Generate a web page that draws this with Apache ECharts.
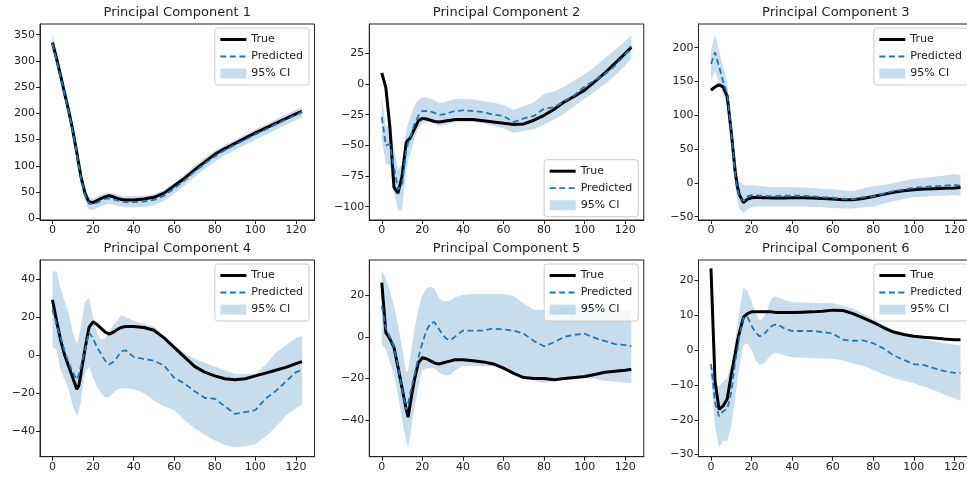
<!DOCTYPE html>
<html>
<head>
<meta charset="utf-8">
<script src="https://cdn.jsdelivr.net/npm/echarts@6.0.0/dist/echarts.min.js"></script>
<style>
html, body { margin: 0; padding: 0; background: #fff; }
#chart { width: 967px; height: 479px; }
</style>
</head>
<body>
<div id="chart"></div>
<script>
// shared x positions (time steps) the values below were read at
var xs = [0, 2, 4, 6, 8, 10, 12, 13, 14, 16, 18, 20, 22, 24, 26, 28, 30, 32, 34, 36, 40, 45,
    50, 55, 60, 65, 70, 75, 80, 85, 90, 95, 100, 105, 110, 115, 120, 123];
var xTicks = [0, 20, 40, 60, 80, 100, 120];

var pc1True = [335, 305, 272, 238, 205, 168, 125, 102, 80, 48, 31, 30, 34, 38, 41, 43, 41, 38, 36, 35, 35, 37,
    40, 48, 62, 76, 92, 107, 122, 133, 143, 153, 163, 172, 181, 190, 199, 204];
var pc1Pred = [333, 302, 270, 236, 203, 166, 123, 100, 78, 45, 28, 27, 30, 34, 37, 38, 36, 34, 32, 31, 31, 32,
    35, 43, 57, 72, 89, 104, 118, 130, 140, 150, 160, 169, 179, 188, 197, 203];
var pc1Lo = [318, 290, 258, 224, 191, 154, 111, 88, 66, 33, 16, 16, 19, 23, 26, 28, 26, 24, 22, 21, 21, 22,
    25, 33, 47, 62, 79, 94, 108, 120, 130, 140, 150, 159, 169, 178, 187, 193];
var pc1Hi = [352, 318, 284, 250, 217, 180, 137, 113, 91, 57, 40, 38, 41, 45, 48, 49, 47, 45, 43, 42, 42, 43,
    46, 54, 68, 83, 100, 115, 129, 140, 150, 160, 170, 179, 189, 198, 207, 212];
var pc1Ticks = [0, 50, 100, 150, 200, 250, 300, 350];

var pc2True = [9, -3, -35, -84, -89, -75, -48, -45.5, -44, -37, -30, -28, -28.5, -29.5, -30.5, -31, -30.5, -30, -29.5, -29, -29, -29,
    -30, -31, -32, -33, -32.5, -29.5, -25.5, -20.5, -14.5, -10, -5, 2, 9, 17, 25, 30];
var pc2Pred = [-27, -50, -49, -68, -86, -82, -55, -48, -44, -33, -26, -22, -22, -22.5, -23.5, -25, -25, -24, -23, -22, -21.5, -22,
    -23, -25, -26, -31, -28, -26, -20, -19, -14, -9, -2, 3, 8, 15, 24, 31];
var pc2Lo = [-45, -65, -66, -88, -103, -103, -72, -63, -57, -45, -36, -32, -31, -31, -32, -34, -34, -33, -32, -31, -31, -31,
    -32, -34, -36, -40, -38, -37, -33, -29, -24, -18, -12, -6, 0, 7, 15, 21];
var pc2Hi = [-10, -35, -32, -52, -70, -65, -38, -32, -27, -18, -13, -11, -11, -12, -13, -15, -15, -14, -13, -12.5, -12, -12.5,
    -14, -15, -17, -21, -18, -15, -8, -6, -2, 3, 8, 14, 21, 28, 35, 40];
var pc2Ticks = [-100, -75, -50, -25, 0, 25];

var pc3True = [137, 142, 145, 142, 128, 75, 15, -5, -18, -29, -24, -22, -21.5, -21.5, -22, -22, -22.5, -22.5, -22.5, -22.5, -22, -22,
    -22.5, -23, -24, -25, -25, -23, -20, -17, -14, -11.5, -10, -9, -8.5, -8, -7.5, -7];
var pc3Pred = [176, 193, 172, 150, 132, 75, 12, -8, -22, -27, -20, -18, -18.5, -19, -19, -19.5, -19.5, -19.5, -19, -19, -19, -19,
    -20, -21, -22, -23.5, -24, -21, -20, -16, -12, -10, -7, -6, -5, -4, -3, -4];
var pc3Lo = [152, 165, 150, 130, 115, 55, -5, -25, -38, -45, -39, -36, -35, -35, -35, -35, -35, -35, -35, -35, -35, -35,
    -35.5, -36, -37, -38, -38, -36, -35, -31, -27, -24, -21, -20, -19, -19, -18, -19];
var pc3Hi = [195, 220, 195, 172, 148, 92, 30, 12, 2, -3, -4, -4, -4, -5, -5, -6, -6, -6, -6, -6, -6.5, -7,
    -7.5, -8.5, -9.5, -11, -12, -8, -5, -3, 0, 3, 6, 7.5, 9, 11, 13, 12];
var pc3Ticks = [-50, 0, 50, 100, 150, 200];

var pc4True = [29, 18, 8, 0, -6, -12, -18, -16, -10, 3, 14.5, 17.5, 16, 14, 12, 11, 12, 13.5, 14.5, 15, 15, 14.5,
    13, 9, 4, -1, -6, -9, -11, -12.5, -13, -12.5, -11, -9.5, -8, -6.5, -4.5, -3.5];
var pc4Pred = [24, 16, 9, 2, -4, -9, -13, -10, -6, 2.5, 12, 8.6, 4, 0.5, -3, -5, -3.5, -1, 2, 2.5, -1, -2,
    -3, -5.5, -12, -15, -19, -22.5, -23, -27, -31, -30, -29, -23, -19, -14, -9, -8];
var pc4Lo = [4, 3, -8, -13, -18, -27, -32, -30, -24, -10, -6, -12, -17, -20, -22.5, -22, -20, -18, -17.5, -17.5, -18, -20,
    -24, -27, -29, -34, -38.5, -42, -45, -47.5, -48.5, -48, -47, -43, -38, -32, -28, -26];
var pc4Hi = [44, 44, 35, 28, 22, 12, 6, 10, 15, 28, 30, 20, 11, 8, 9, 12, 16, 18, 21, 20, 18, 16.5,
    15, 10, 5, 1, -2, -4, -6, -8, -10, -10, -10, -5, 1, 5, 9, 10];
var pc4Ticks = [-40, -20, 0, 20, 40];

var pc5True = [26, 2, -1, -5, -14.5, -24.5, -34.5, -38.5, -32, -21, -12.5, -10, -10.5, -11.5, -12.5, -13, -12.5, -12, -11.5, -11, -11, -11.5,
    -12, -13, -15, -17.5, -19.5, -20, -20, -20.5, -20, -19.5, -19, -18, -17, -16.5, -16, -15.5];
var pc5Pred = [15, 4, 0, -5, -14, -25, -35, -32, -27, -19, -10, -3, 3, 6.5, 7, 4, 1, -1, -1.5, 0, 3, 3,
    3, 4, 3.5, 3, 1.5, -2, -4.5, -2.5, 0, 1, 1.5, -0.5, -2, -3.5, -4, -4.5];
var pc5Lo = [-4, -6, -12, -18, -28, -40, -50, -53, -47, -35, -24, -16, -15, -15, -15, -17, -18, -18.5, -18, -16, -14, -14,
    -14, -14, -15, -17, -19, -21, -22, -21, -20, -20, -20, -20, -21, -21.5, -22, -22];
var pc5Hi = [32, 28, 22, 15, 6, -5, -17, -16, -10, 3, 13, 20, 23, 24, 23, 19, 17, 17, 17.5, 19, 20, 20.5,
    20.5, 20.5, 20.5, 19.5, 16, 13, 13, 13, 14, 14, 14.5, 14, 13, 13, 13, 13];
var pc5Ticks = [-40, -20, 0, 20];

var pc6True = [23.5, -9, -17, -16, -14, -7, -1, 2.5, 5, 9.5, 10.5, 11, 11, 11, 11, 11, 11, 10.8, 10.8, 10.8, 10.8, 10.9,
    11, 11.2, 11.5, 11.4, 10.5, 9.3, 8, 6.5, 5.2, 4.5, 4, 3.7, 3.5, 3.2, 3, 3];
var pc6Pred = [-4, -15, -19, -17.5, -17, -12, -3, 0, 4, 9.5, 9.5, 7, 5, 4, 4.5, 5.8, 7, 7.4, 7, 6.3, 5.5, 5.5,
    5.5, 5.2, 4.8, 3, 2.7, 2.8, 2, 0.5, -1.5, -2.8, -4, -4.3, -5.2, -6, -6.5, -6.5];
var pc6Lo = [-7, -22, -28, -26, -26, -22, -13, -9, -5, 1.5, 2, 0, -3, -4.2, -3.8, -2.5, -1.2, -0.8, -1, -1.5, -2, -2.2,
    -2.3, -2.4, -2.5, -3, -3.8, -4.5, -5.7, -7, -8, -8.8, -9.5, -10.5, -11.5, -12.8, -13.8, -14.5];
var pc6Hi = [-3, -9, -10.5, -9, -8, -4, 3, 7, 11, 18, 17, 14, 10.5, 8.5, 9.5, 12, 15, 15.5, 15, 14.5, 13.8, 13.8,
    13.6, 13.5, 13.5, 12.8, 12, 10.5, 8.7, 7.2, 5.8, 4.8, 3.9, 3.2, 2.5, 2, 1.6, 1.5];
var pc6Ticks = [-30, -20, -10, 0, 10, 20];

var myChart = echarts.init(document.getElementById('chart'));
var font = 'DejaVu Sans';
var ink = '#222';
var blue = '#1f77b4';
var bandColor = 'rgba(31,119,180,0.25)';

var panels = [
    {title: 'Principal Component 1', t: pc1True, p: pc1Pred, lo: pc1Lo, hi: pc1Hi, ticks: pc1Ticks,
        left: 40, top: 24, h: 196, ymin: -3.2, ymax: 370.4, legend: {right: 658, top: 28}},
    {title: 'Principal Component 2', t: pc2True, p: pc2Pred, lo: pc2Lo, hi: pc2Hi, ticks: pc2Ticks,
        left: 369.3, top: 24, h: 196, ymin: -110.8, ymax: 48.9, legend: {right: 328.7, bottom: 262.3}},
    {title: 'Principal Component 3', t: pc3True, p: pc3Pred, lo: pc3Lo, hi: pc3Hi, ticks: pc3Ticks,
        left: 698.5, top: 24, h: 196, ymin: -54.9, ymax: 235, legend: {right: -1, top: 28}},
    {title: 'Principal Component 4', t: pc4True, p: pc4Pred, lo: pc4Lo, hi: pc4Hi, ticks: pc4Ticks,
        left: 40, top: 260, h: 196.7, ymin: -53.5, ymax: 50, legend: {right: 658, top: 264}},
    {title: 'Principal Component 5', t: pc5True, p: pc5Pred, lo: pc5Lo, hi: pc5Hi, ticks: pc5Ticks,
        left: 369.3, top: 260, h: 196.7, ymin: -57.4, ymax: 36.8, legend: {right: 328.7, top: 264}},
    {title: 'Principal Component 6', t: pc6True, p: pc6Pred, lo: pc6Lo, hi: pc6Hi, ticks: pc6Ticks,
        left: 698.5, top: 260, h: 196.7, ymin: -30.6, ymax: 25.9, legend: {right: -1, top: 264}}
];
var plotWidth = 274.5;

function pairs(x, y) {
    return x.map(function (v, i) { return [v, y[i]]; });
}
function minusFmt(v) {
    return v < 0 ? '\u2212' + (-v) : String(v);
}

// the CI band: one polygon per panel, upper edge forward then lower edge back
function bandRenderer(lo, hi) {
    return function (params, api) {
        if (params.dataIndex !== 0) return null;
        var pts = [];
        for (var k = 0; k < xs.length; k++) pts.push(api.coord([xs[k], hi[k]]));
        for (var k2 = xs.length - 1; k2 >= 0; k2--) pts.push(api.coord([xs[k2], lo[k2]]));
        return {
            type: 'polygon',
            shape: {points: pts},
            style: {fill: bandColor, stroke: 'none'},
            silent: true
        };
    };
}

var grids = [], xAxes = [], yAxes = [], titles = [], legends = [], series = [];

panels.forEach(function (pn, i) {
    grids.push({
        left: pn.left, top: pn.top, width: plotWidth, height: pn.h,
        show: true, borderColor: ink, borderWidth: 1, backgroundColor: 'transparent',
        containLabel: false, outerBoundsMode: 'none'
    });
    xAxes.push({
        gridIndex: i, type: 'value', min: -6.15, max: 129.15,
        splitLine: {show: false},
        axisLine: {show: true, onZero: false, lineStyle: {color: ink, width: 1}},
        axisTick: {show: true, length: 4, customValues: xTicks, lineStyle: {color: ink}},
        axisLabel: {customValues: xTicks, color: ink, fontSize: 11, fontFamily: font, margin: 5}
    });
    yAxes.push({
        gridIndex: i, type: 'value', min: pn.ymin, max: pn.ymax,
        splitLine: {show: false},
        axisLine: {show: true, onZero: false, lineStyle: {color: ink, width: 1}},
        axisTick: {show: true, length: 4, customValues: pn.ticks, lineStyle: {color: ink}},
        axisLabel: {customValues: pn.ticks, color: ink, fontSize: 11, fontFamily: font, margin: 5,
            formatter: minusFmt}
    });
    titles.push({
        text: pn.title, left: pn.left + plotWidth / 2, top: pn.top - 18, textAlign: 'center', padding: 0,
        textStyle: {fontSize: 13, fontWeight: 'normal', color: ink, fontFamily: font}
    });
    legends.push(Object.assign({
        orient: 'vertical', padding: [6, 6, 6, 4], itemWidth: 26, itemHeight: 10, itemGap: 6,
        borderColor: '#cccccc', borderWidth: 1, borderRadius: 3, backgroundColor: 'rgba(255,255,255,0.8)',
        selectedMode: false,
        textStyle: {fontSize: 11, color: ink, fontFamily: font},
        lineStyle: {width: 'inherit'},
        data: [
            {name: 'True', itemStyle: {opacity: 0}},
            {name: 'Predicted', itemStyle: {opacity: 0}},
            {name: '95% CI', icon: 'rect', itemStyle: {color: bandColor}}
        ]
    }, pn.legend));

    series.push({
        name: '95% CI', type: 'custom', xAxisIndex: i, yAxisIndex: i,
        data: xs.map(function (x, k) { return [x, pn.lo[k], pn.hi[k]]; }),
        encode: {x: 0, y: [1, 2]},
        renderItem: bandRenderer(pn.lo, pn.hi),
        itemStyle: {color: bandColor}, silent: true, z: 1
    });
    series.push({
        name: 'True', type: 'line', xAxisIndex: i, yAxisIndex: i,
        data: pairs(xs, pn.t), symbol: 'none', silent: true,
        lineStyle: {color: '#000', width: 3}, itemStyle: {color: '#000'}, z: 3
    });
    series.push({
        name: 'Predicted', type: 'line', xAxisIndex: i, yAxisIndex: i,
        data: pairs(xs, pn.p), symbol: 'none', silent: true,
        lineStyle: {color: blue, width: 1.8, type: [6, 3.5]}, itemStyle: {color: blue}, z: 4
    });
});

var option = {
    backgroundColor: '#fff',
    animation: false,
    title: titles,
    legend: legends,
    grid: grids,
    xAxis: xAxes,
    yAxis: yAxes,
    series: series
};
myChart.setOption(option);
</script>
</body>
</html>
